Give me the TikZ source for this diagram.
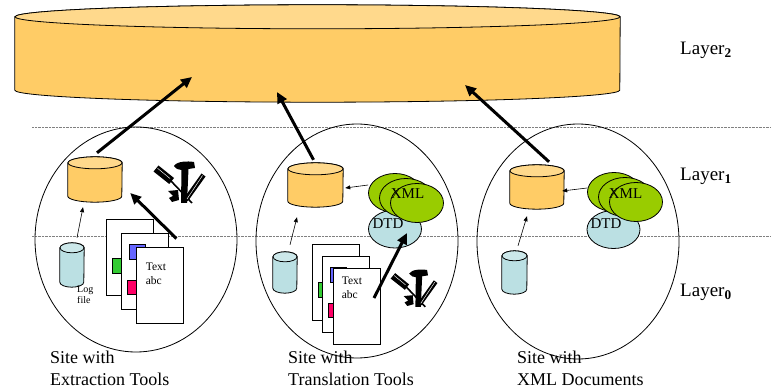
\documentclass[tikz,border=0pt]{standalone}
\usepackage{fontspec}
\setmainfont{Liberation Serif}
\usetikzlibrary{shapes.geometric,arrows.meta,calc,positioning}

\definecolor{storeorange}{HTML}{FFCC66}
\definecolor{logblue}{HTML}{BBE0E3}
\definecolor{xmlgreen}{HTML}{99CC00}
\definecolor{tabgreen}{HTML}{33CC33}
\definecolor{tabblue}{HTML}{6666FF}
\definecolor{tabred}{HTML}{FF0066}

% cylinder: name, x, y, width, height, cap radius, colour
\newcommand{\drum}[7]{%
  \node[inner sep=0pt, minimum width=#4, minimum height=#5] (#1) at (#2,#3) {};
  \filldraw[fill=#7, line width=0.8pt] ([yshift=-#6]#1.north west) -- ([yshift=#6]#1.south west)
    arc[start angle=180, end angle=360, x radius=#4/2, y radius=#6]
    -- ([yshift=-#6]#1.north east)
    arc[start angle=0, end angle=180, x radius=#4/2, y radius=#6] -- cycle;
  \filldraw[fill=#7!75!white, line width=0.8pt] ([yshift=-#6]#1.north) ellipse[x radius=#4/2, y radius=#6];
}

% hammer, screwdriver and chisel; top left corner, scale
\newcommand{\toolkit}[2]{%
  \begin{scope}[shift={(#1)}, scale=#2]
    \fill (3.5,-3.5) -- (-1.5,-9.5) -- (14.3,-22) -- (19,-16) -- cycle;% screwdriver grip
    \draw[white, line width=0.45pt] (2.5,-6.2) -- (15,-16.5);
    \draw[line width=1.6pt] (16,-19) -- (37,-41);
    \fill (19,-4) .. controls (22,1) and (33,1) .. (39,0) -- (40,-6) -- (33.5,-7)
      -- (32,-41) -- (26,-41) -- (26.5,-8) .. controls (24,-8) and (21,-7) .. (19,-4) -- cycle;% hammer
    \fill (46.5,-11.5) -- (50.5,-14.5) -- (33,-39) -- (29,-40) -- (29,-36) -- cycle;% chisel
    \draw[white, line width=0.45pt] (47.5,-13.5) -- (32,-37);
    \fill (13,-29) -- (23,-28) -- (24,-38) -- (17,-40) -- (14,-36) -- (18,-34) -- cycle;% wrench
  \end{scope}
}

\tikzset{
  site/.style={ellipse, draw, line width=0.8pt, inner sep=0pt},
  page/.style={rectangle, draw, fill=white, line width=0.8pt, inner sep=0pt,
    minimum width=47pt, minimum height=76pt},
  tab/.style={rectangle, draw, line width=0.6pt, inner sep=0pt},
  xmldoc/.style={ellipse, draw, fill=xmlgreen, line width=0.8pt, inner sep=0pt,
    minimum width=53pt, minimum height=39pt},
  dtd/.style={ellipse, draw, fill=logblue, line width=0.8pt, inner sep=0pt,
    minimum width=53pt, minimum height=38pt},
  flow/.style={line width=3pt, -{Triangle[length=11pt,width=10pt]}},
  link/.style={line width=0.6pt, -{Triangle[length=5pt,width=4pt]}},
  layerline/.style={gray, line width=0.6pt, dash pattern=on 0.6pt off 0.8pt},
  layer/.style={anchor=base west, inner sep=0pt, font=\fontsize{19}{22}\selectfont},
  sitelabel/.style={anchor=north west, align=left, inner sep=0pt, font=\fontsize{18}{22}\selectfont},
  pagetext/.style={anchor=north west, align=left, inner sep=0pt, font=\fontsize{11.5}{14}\selectfont},
  ellipsetext/.style={inner sep=0pt, font=\fontsize{15}{17}\selectfont},
}

\begin{document}
\begin{tikzpicture}[x=1pt, y=1pt]
  \useasboundingbox (0,0) rectangle (771,391);

  % layer borders
  \draw[layerline] (32,264) -- (771,264);
  \draw[layerline] (32,155) -- (771,155);

  % global store
  \drum{store}{317.5}{337.5}{605pt}{97pt}{12pt}{storeorange}
  \coordinate (in1) at (192,314);
  \coordinate (in2) at (277,299);
  \coordinate (in3) at (465,306);

  % sites
  \node[site, minimum width=202pt, minimum height=225pt] (lsite) at (136,151.5) {};
  \node[site, minimum width=202pt, minimum height=234pt] (msite) at (357,150) {};
  \node[site, minimum width=202pt, minimum height=235pt] (rsite) at (578,149.5) {};

  % local stores
  \drum{lcache}{95}{211.5}{54pt}{45pt}{6pt}{storeorange}
  \drum{mcache}{315.5}{206}{55pt}{44pt}{6pt}{storeorange}
  \drum{rcache}{537}{204}{54pt}{44pt}{6pt}{storeorange}
  \drum{llog}{72}{126}{24pt}{44pt}{5pt}{logblue}
  \drum{mlog}{285}{118.5}{24pt}{41pt}{5pt}{logblue}
  \drum{rlog}{514.5}{118.5}{25pt}{43pt}{5pt}{logblue}
  \node[anchor=north west, align=left, inner sep=0pt, font=\fontsize{10}{11.5}\selectfont] (lfile) at (77,105.6) {Log\\file};

  % documents, extraction site
  \node[page] (lp1) at (129.5,134) {};
  \node[tab, fill=tabgreen, minimum width=16pt, minimum height=15pt] (lgreen) at (120,125.5) {};
  \node[page] (lp2) at (144.5,120) {};
  \node[tab, fill=tabblue, minimum width=16pt, minimum height=15pt] (lblue) at (137,139.5) {};
  \node[tab, fill=tabred, minimum width=16pt, minimum height=14pt] (lred) at (135,104) {};
  \node[page] (lp3) at (159.5,106) {};
  \node[pagetext] (ltext) at ([xshift=10pt, yshift=-16.4pt]lp3.north west) {Text\\abc};

  % documents, translation site
  \node[page] (mp1) at (335.5,109) {};
  \node[tab, fill=tabgreen, minimum width=13pt, minimum height=15pt] (mgreen) at (324.5,101.5) {};
  \node[page] (mp2) at (346,96.5) {};
  \node[tab, fill=tabblue, minimum width=16pt, minimum height=15pt] (mblue) at (338,116.5) {};
  \node[tab, fill=tabred, minimum width=13pt, minimum height=14pt] (mred) at (334.5,81) {};
  \node[page] (mp3) at (356.5,85) {};
  \node[pagetext] (mtext) at ([xshift=9pt, yshift=-9pt]mp3.north west) {Text\\abc};

  % XML documents and DTDs
  \node[dtd] (mdtd) at (395,162) {};
  \node[xmldoc] (mx1) at (395,198) {};
  \node[xmldoc] (mx2) at (406,193) {};
  \node[xmldoc] (mx3) at (417,188) {};
  \node[ellipsetext] at (407.5,197) {XML};
  \node[ellipsetext] at (388,167) {DTD};

  \node[dtd] (rdtd) at (613.5,161.5) {};
  \node[xmldoc] (rx1) at (614,199) {};
  \node[xmldoc] (rx2) at (625,194) {};
  \node[xmldoc] (rx3) at (636,189) {};
  \node[ellipsetext] at (625.5,197) {XML};
  \node[ellipsetext] at (606,167) {DTD};

  % tools
  \toolkit{155,229}{1}
  \toolkit{392,121}{0.9}

  % flows into the global store
  \draw[flow] ([xshift=2pt, yshift=4pt]lcache.north) -- (in1);
  \draw[flow] ([xshift=-2pt, yshift=3pt]mcache.north) -- (in2);
  \draw[flow] ([xshift=12pt, yshift=3pt]rcache.north) -- (in3);
  \draw[flow] ([xshift=-7pt, yshift=8pt]lp3.north east) -- ([xshift=8pt, yshift=-13.5pt]lcache.east);
  \draw[flow] ([xshift=17.5pt, yshift=8pt]mp3.center) -- ([xshift=12pt, yshift=-4pt]mdtd.center);

  % local links
  \draw[link] ([xshift=5pt, yshift=5pt]llog.north) -- ([xshift=-12pt, yshift=-5pt]lcache.south);
  \draw[link] ([xshift=5pt, yshift=7pt]mlog.north) -- ([xshift=-18.5pt, yshift=-10pt]mcache.south);
  \draw[link] ([xshift=3.5pt, yshift=5pt]rlog.north) -- ([xshift=-10pt, yshift=-7pt]rcache.south);
  \draw[link] ([yshift=8pt]mx1.west) -- ([xshift=2pt, yshift=-3pt]mcache.east);
  \draw[link] ([yshift=4pt]rx1.west) -- ([xshift=-2pt, yshift=-4pt]rcache.east);

  % layers
  \node[layer] at (680,336.5) {Layer\textsubscript{\textbf{2}}};
  \node[layer] at (680,210.5) {Layer\textsubscript{\textbf{1}}};
  \node[layer] at (680,94.5) {Layer\textsubscript{\textbf{0}}};

  % site names
  \node[sitelabel] at (50,40.5) {Site with\\Extraction Tools};
  \node[sitelabel] at (288,40.5) {Site with\\Translation Tools};
  \node[sitelabel] at (517,40.5) {Site with\\XML Documents};
\end{tikzpicture}
\end{document}
